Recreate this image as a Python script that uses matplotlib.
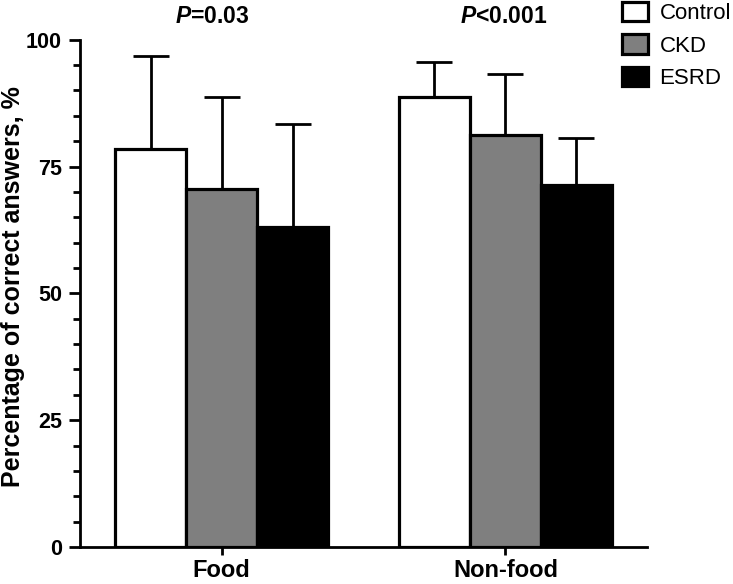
import matplotlib
matplotlib.use("Agg")
import matplotlib.pyplot as plt
import numpy as np

plt.rcParams['font.family'] = ['Liberation Sans', 'DejaVu Sans']
plt.rcParams['mathtext.fontset'] = 'custom'
plt.rcParams['mathtext.it'] = 'Liberation Sans:italic:bold'
plt.rcParams['mathtext.rm'] = 'Liberation Sans:bold'

categories = ['Food', 'Non-food']
groups = ['Control', 'CKD', 'ESRD']
means = {
    'Control': [78.4, 88.8],
    'CKD': [70.5, 81.3],
    'ESRD': [63.0, 71.3],
}
sds = {
    'Control': [18.3, 6.9],
    'CKD': [18.3, 11.9],
    'ESRD': [20.4, 9.4],
}
p_labels = [r'$\mathit{P}$=0.03', r'$\mathit{P}$<0.001']
colors = {'Control': 'white', 'CKD': '#7f7f7f', 'ESRD': 'black'}

fig = plt.figure(figsize=(7.33, 5.84), dpi=100)
ax = fig.add_axes([0.109, 0.0634, 0.774, 0.8686])

x = np.arange(len(categories))
w = 0.25
for i, g in enumerate(groups):
    ax.bar(x + (i - 1) * w, means[g], w, color=colors[g], edgecolor='black',
           linewidth=2.3, label=g, zorder=2,
           yerr=[np.zeros(len(categories)), sds[g]],
           error_kw=dict(ecolor='black', elinewidth=2, capsize=13, capthick=2, zorder=1))

ax.set_xlim(-0.5, 1.5)
ax.set_ylim(0, 100)
ax.set_yticks([0, 25, 50, 75, 100])
ax.set_yticks(np.arange(0, 101, 5), minor=True)
ax.set_xticks(x)
ax.set_xticklabels(categories, fontsize=17, fontweight='bold')
for lab in ax.get_yticklabels():
    lab.set_fontsize(15.5)
    lab.set_fontweight('bold')
ax.tick_params(axis='y', which='major', length=8, width=2, pad=5)
ax.tick_params(axis='y', which='minor', length=5, width=2)
ax.tick_params(axis='x', length=6, width=2, pad=3)
ax.spines['top'].set_visible(False)
ax.spines['right'].set_visible(False)
ax.spines['left'].set_linewidth(2)
ax.spines['bottom'].set_linewidth(2)
ax.set_ylabel('Percentage of correct answers, %', fontsize=18, fontweight='bold')
ax.yaxis.set_label_coords(-0.097, 0.514)

# the first P label sits a little left of its group in the original
p_shift = [-0.035, -0.005]
for xi, p, s in zip(x, p_labels, p_shift):
    ax.text(xi + s, 104.6, p, ha='center', va='center', fontsize=16.5,
            fontweight='bold', clip_on=False)

fig.legend(loc='upper left', bbox_to_anchor=(0.845, 1.0), frameon=False,
           fontsize=16, handlelength=1.2, handleheight=0.95, handletextpad=0.5,
           labelspacing=0.45, borderpad=0.1, borderaxespad=0)

fig.savefig('out.png', dpi=100)
